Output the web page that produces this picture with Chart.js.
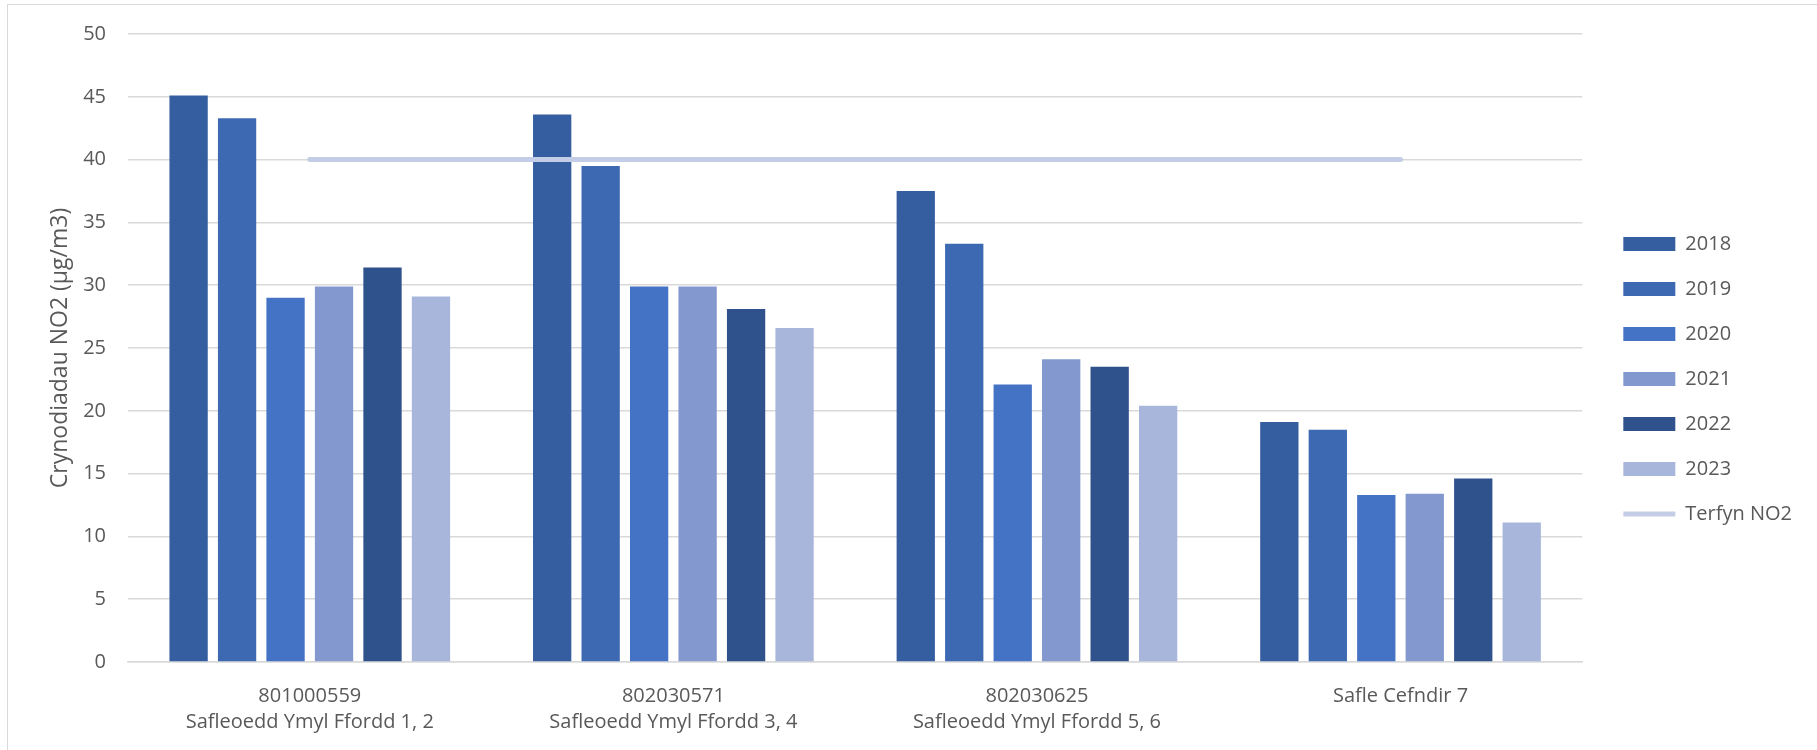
<!DOCTYPE html>
<html>
<head>
<meta charset="utf-8">
<script src="https://cdn.jsdelivr.net/npm/chart.js@4.4.1/dist/chart.umd.min.js"></script>
<style>
  body { margin: 0; background: #fff; overflow: hidden; }
  #wrap { position: relative; width: 1817px; height: 750px; }
  #frame { position: absolute; left: 7px; top: 4px; width: 2000px; height: 2000px;
           border-left: 1px solid #d9d9d9; border-top: 1px solid #d9d9d9; }
  canvas { position: absolute; left: 0; top: 0; }
</style>
</head>
<body>
<div id="wrap">
  <div id="frame"></div>
  <canvas id="no2Chart"></canvas>
</div>
<script>
// categories (two-line tick labels)
const sites = [
  ["801000559", "Safleoedd Ymyl Ffordd 1, 2"],
  ["802030571", "Safleoedd Ymyl Ffordd 3, 4"],
  ["802030625", "Safleoedd Ymyl Ffordd 5, 6"],
  ["Safle Cefndir 7"]
];

// NO2 values per year (µg/m3)
const y2018 = [45.1, 43.6, 37.5, 19.1];
const y2019 = [43.3, 39.5, 33.3, 18.5];
const y2020 = [29.0, 29.9, 22.1, 13.3];
const y2021 = [29.9, 29.9, 24.1, 13.4];
const y2022 = [31.4, 28.1, 23.5, 14.6];
const y2023 = [29.1, 26.6, 20.4, 11.1];
const limitNO2 = [40, 40, 40, 40];

const years = ["2018", "2019", "2020", "2021", "2022", "2023"];
const yearData = [y2018, y2019, y2020, y2021, y2022, y2023];
const yearColors = ["#355ea1", "#3d69b3", "#4472c4", "#8298cf", "#2f518c", "#a8b6db"];

const font = "'Open Sans', 'Liberation Sans', sans-serif";
const textColor = "#595959";

// move the legend a little right and up
const legendShift = {
    id: 'legendShift',
    afterLayout(chart) {
        const lg = chart.legend;
        if (!lg) return;
        lg.left += 16; lg.right += 16;
        lg.top -= 13; lg.bottom -= 13;
    }
};

const datasets = years.map((yr, i) => ({
    type: 'bar',
    label: yr,
    data: yearData[i],
    backgroundColor: yearColors[i],
    borderWidth: 0,
    pointStyle: 'rect',
    barPercentage: 0.79,
    categoryPercentage: 0.8,
    order: 1
}));

datasets.push({
    type: 'line',
    label: 'Terfyn NO2',
    data: limitNO2,
    borderColor: '#c4cde6',
    backgroundColor: '#c4cde6',
    borderWidth: 5,
    borderCapStyle: 'round',
    pointRadius: 0,
    pointStyle: 'line',
    order: 0
});

const ctx = document.getElementById('no2Chart').getContext('2d');
new Chart(ctx, {
    data: { labels: sites, datasets: datasets },
    plugins: [legendShift],
    options: {
        responsive: true,
        maintainAspectRatio: false,
        animation: false,
        layout: { padding: { top: 34, bottom: 0, left: 0, right: 31 } },
        plugins: {
            tooltip: { enabled: false },
            legend: {
                position: 'right',
                labels: {
                    usePointStyle: true,
                    pointStyleWidth: 52,
                    boxHeight: 14,
                    padding: 25,
                    color: textColor,
                    font: { family: font, size: 20 },
                    sort: (a, b) => a.datasetIndex - b.datasetIndex
                }
            }
        },
        scales: {
            x: {
                grid: { display: false },
                border: { display: true, color: '#d9d9d9', width: 1.5 },
                ticks: {
                    padding: 13.5,
                    color: textColor,
                    maxRotation: 0,
                    font: { family: font, size: 20, lineHeight: 1.3 }
                },
                afterFit(s) { s.height = 88; }
            },
            y: {
                min: 0,
                max: 50,
                ticks: {
                    stepSize: 5,
                    padding: 22,
                    color: textColor,
                    font: { family: font, size: 20 }
                },
                grid: { color: '#d9d9d9', lineWidth: 1.5, drawTicks: false },
                border: { display: false },
                title: {
                    display: true,
                    text: 'Crynodiadau NO2 (µg/m3)',
                    color: textColor,
                    font: { family: font, size: 23 },
                    padding: { top: 47, bottom: 0 }
                },
                afterFit(s) { s.width = 128; }
            }
        }
    }
});
</script>
</body>
</html>
